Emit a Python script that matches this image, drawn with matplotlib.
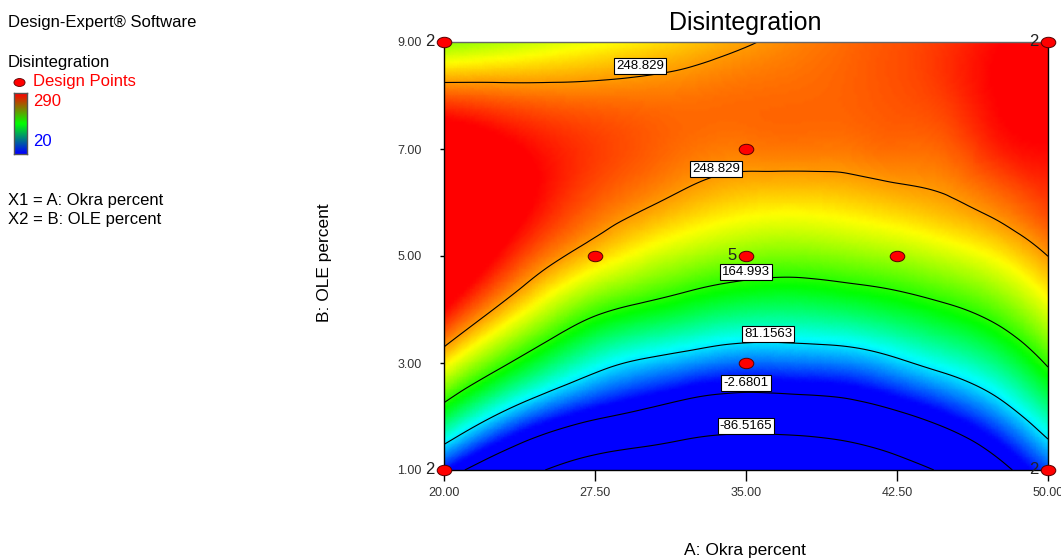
import numpy as np
import matplotlib
matplotlib.use("Agg")
import matplotlib.pyplot as plt
import matplotlib.tri as mtri
from matplotlib.colors import LinearSegmentedColormap, Normalize
from matplotlib.path import Path
from matplotlib.transforms import Affine2D

plt.rcParams["font.family"] = ["Liberation Sans", "DejaVu Sans"]

# grid of the response surface
okra = [20, 22.5, 25, 27.5, 30, 32.5, 35, 37.5, 40, 42.5, 45, 47.5, 50]
ole = [1, 2, 3, 4, 5, 6, 7, 8, 9]
# one row per OLE level (1 .. 9), one column per Okra level
disintegration = [
    [23, -36, -86, -128, -147, -160, -167, -165, -150, -115, -75, -20, 40],
    [139, 80, 35, 4, -18, -41, -50, -46, -36, -13, 17, 56, 110],
    [228, 179, 134, 96, 74, 59, 49, 51, 56, 74, 96, 123, 169],
    [289, 248, 209, 174, 155, 140, 129, 127, 133, 144, 159, 180, 215],
    [324, 290, 259, 235, 215, 200, 190, 187, 192, 199, 210, 225, 249],
    [331, 307, 284, 265, 252, 240, 232, 230, 233, 239, 246, 258, 274],
    [312, 297, 284, 274, 266, 259, 257, 258, 258, 261, 264, 281, 288],
    [265, 262, 259, 258, 258, 259, 261, 262, 264, 268, 275, 290, 294],
    [191, 200, 210, 219, 228, 238, 247, 255, 262, 268, 276, 288, 293],
]

contour_levels = [-86.5165, -2.6801, 81.1563, 164.993, 248.829]
# where each contour label sits (Okra, OLE)
label_text = ["248.829", "248.829", "164.993", "81.1563", "-2.6801", "-86.5165"]
label_x = [29.75, 33.5, 35.0, 36.1, 35.0, 35.0]
label_y = [8.55, 6.63, 4.70, 3.54, 2.63, 1.82]

# design points and replicate counts
design_x = [20, 20, 50, 50, 35, 27.5, 42.5, 35, 35]
design_y = [1, 9, 1, 9, 5, 5, 5, 7, 3]
design_n = [2, 2, 2, 2, 5, 1, 1, 1, 1]

color_low, color_high = 20, 290

fig = plt.figure(figsize=(10.61, 5.58), dpi=100)
ax = fig.add_axes([444 / 1061, 1 - 470 / 558, 604 / 1061, 428 / 558])

X, Y = np.meshgrid(okra, ole)
Z = np.array(disintegration, dtype=float)
tri = mtri.Triangulation(X.ravel(), Y.ravel())
refiner = mtri.UniformTriRefiner(tri)
tri_f, z_f = refiner.refine_field(Z.ravel(), subdiv=4)

cmap = LinearSegmentedColormap.from_list(
    "de", ["#0000ff", "#00ffff", "#00ff00", "#ffff00", "#ff0000"])
norm = Normalize(color_low, color_high, clip=True)
ax.tripcolor(tri_f, z_f, shading="gouraud", cmap=cmap, norm=norm)
ax.tricontour(tri_f, z_f, levels=contour_levels, colors="black",
              linewidths=0.8, linestyles="solid")

for t, lx, ly in zip(label_text, label_x, label_y):
    ax.text(lx, ly, t, ha="center", va="center", fontsize=9.5, zorder=6,
            bbox=dict(boxstyle="square,pad=0.15", fc="white", ec="black", lw=0.8))

ell = Path.unit_circle().transformed(Affine2D().scale(1.4, 1.0))
ax.plot(design_x, design_y, linestyle="none", marker=ell, ms=10.5,
        mfc="red", mec="#550000", mew=0.7, clip_on=False, zorder=7)
for x, y, n in zip(design_x, design_y, design_n):
    if n > 1:
        ax.annotate(str(n), (x, y), xytext=(-7, 0), textcoords="offset points",
                    ha="right", va="center", fontsize=12, color="#222222",
                    annotation_clip=False, zorder=8)

ax.set_xlim(20, 50)
ax.set_ylim(1, 9)
ax.set_xticks([20, 27.5, 35, 42.5, 50])
ax.set_xticklabels(["20.00", "27.50", "35.00", "42.50", "50.00"])
ax.set_yticks([1, 3, 5, 7, 9])
ax.set_yticklabels(["1.00", "3.00", "5.00", "7.00", "9.00"])
ax.tick_params(axis="x", length=8, width=1, pad=4, labelsize=9, labelcolor="#333333")
ax.tick_params(axis="y", length=3, width=1, pad=13, labelsize=9, labelcolor="#333333")
for s in ax.spines.values():
    s.set_linewidth(1.0)
ax.spines["top"].set_color("#666666")

fig.text(745 / 1061, 1 - 23 / 558, "Disintegration", ha="center", va="center", fontsize=18)
fig.text(745 / 1061, 1 - 550 / 558, "A: Okra percent", ha="center", va="center", fontsize=12.5)
fig.text(325 / 1061, 1 - 263 / 558, "B: OLE percent", ha="center", va="center",
         rotation=90, fontsize=12.5)

# side legend
fig.text(8 / 1061, 1 - 22 / 558, "Design-Expert® Software", va="center", fontsize=12)
fig.text(8 / 1061, 1 - 62 / 558, "Disintegration", va="center", fontsize=12)
fig.text(33 / 1061, 1 - 82 / 558, "Design Points", va="center", fontsize=12, color="red")
fig.text(33 / 1061, 1 - 101 / 558, str(color_high), va="center", fontsize=12, color="red")
fig.text(33 / 1061, 1 - 141 / 558, str(color_low), va="center", fontsize=12, color="blue")
fig.text(8 / 1061, 1 - 200 / 558, "X1 = A: Okra percent", va="center", fontsize=12)
fig.text(8 / 1061, 1 - 220 / 558, "X2 = B: OLE percent", va="center", fontsize=12)

lax = fig.add_axes([0, 0, 1, 1], facecolor="none")
lax.set_xlim(0, 1061)
lax.set_ylim(558, 0)
lax.axis("off")
lax.plot([19], [82], linestyle="none", marker=ell, ms=8, mfc="red", mec="#550000", mew=0.6)

cax = fig.add_axes([14 / 1061, 1 - 154 / 558, 13 / 1061, 61 / 558])
bar_cmap = LinearSegmentedColormap.from_list("bar", ["#ff0000", "#00ff00", "#0000ff"])
cax.imshow(np.linspace(0, 1, 60).reshape(-1, 1), aspect="auto", cmap=bar_cmap)
cax.set_xticks([])
cax.set_yticks([])
for s in cax.spines.values():
    s.set_color("#555555")
    s.set_linewidth(1.0)

fig.savefig("out.png", dpi=100)
